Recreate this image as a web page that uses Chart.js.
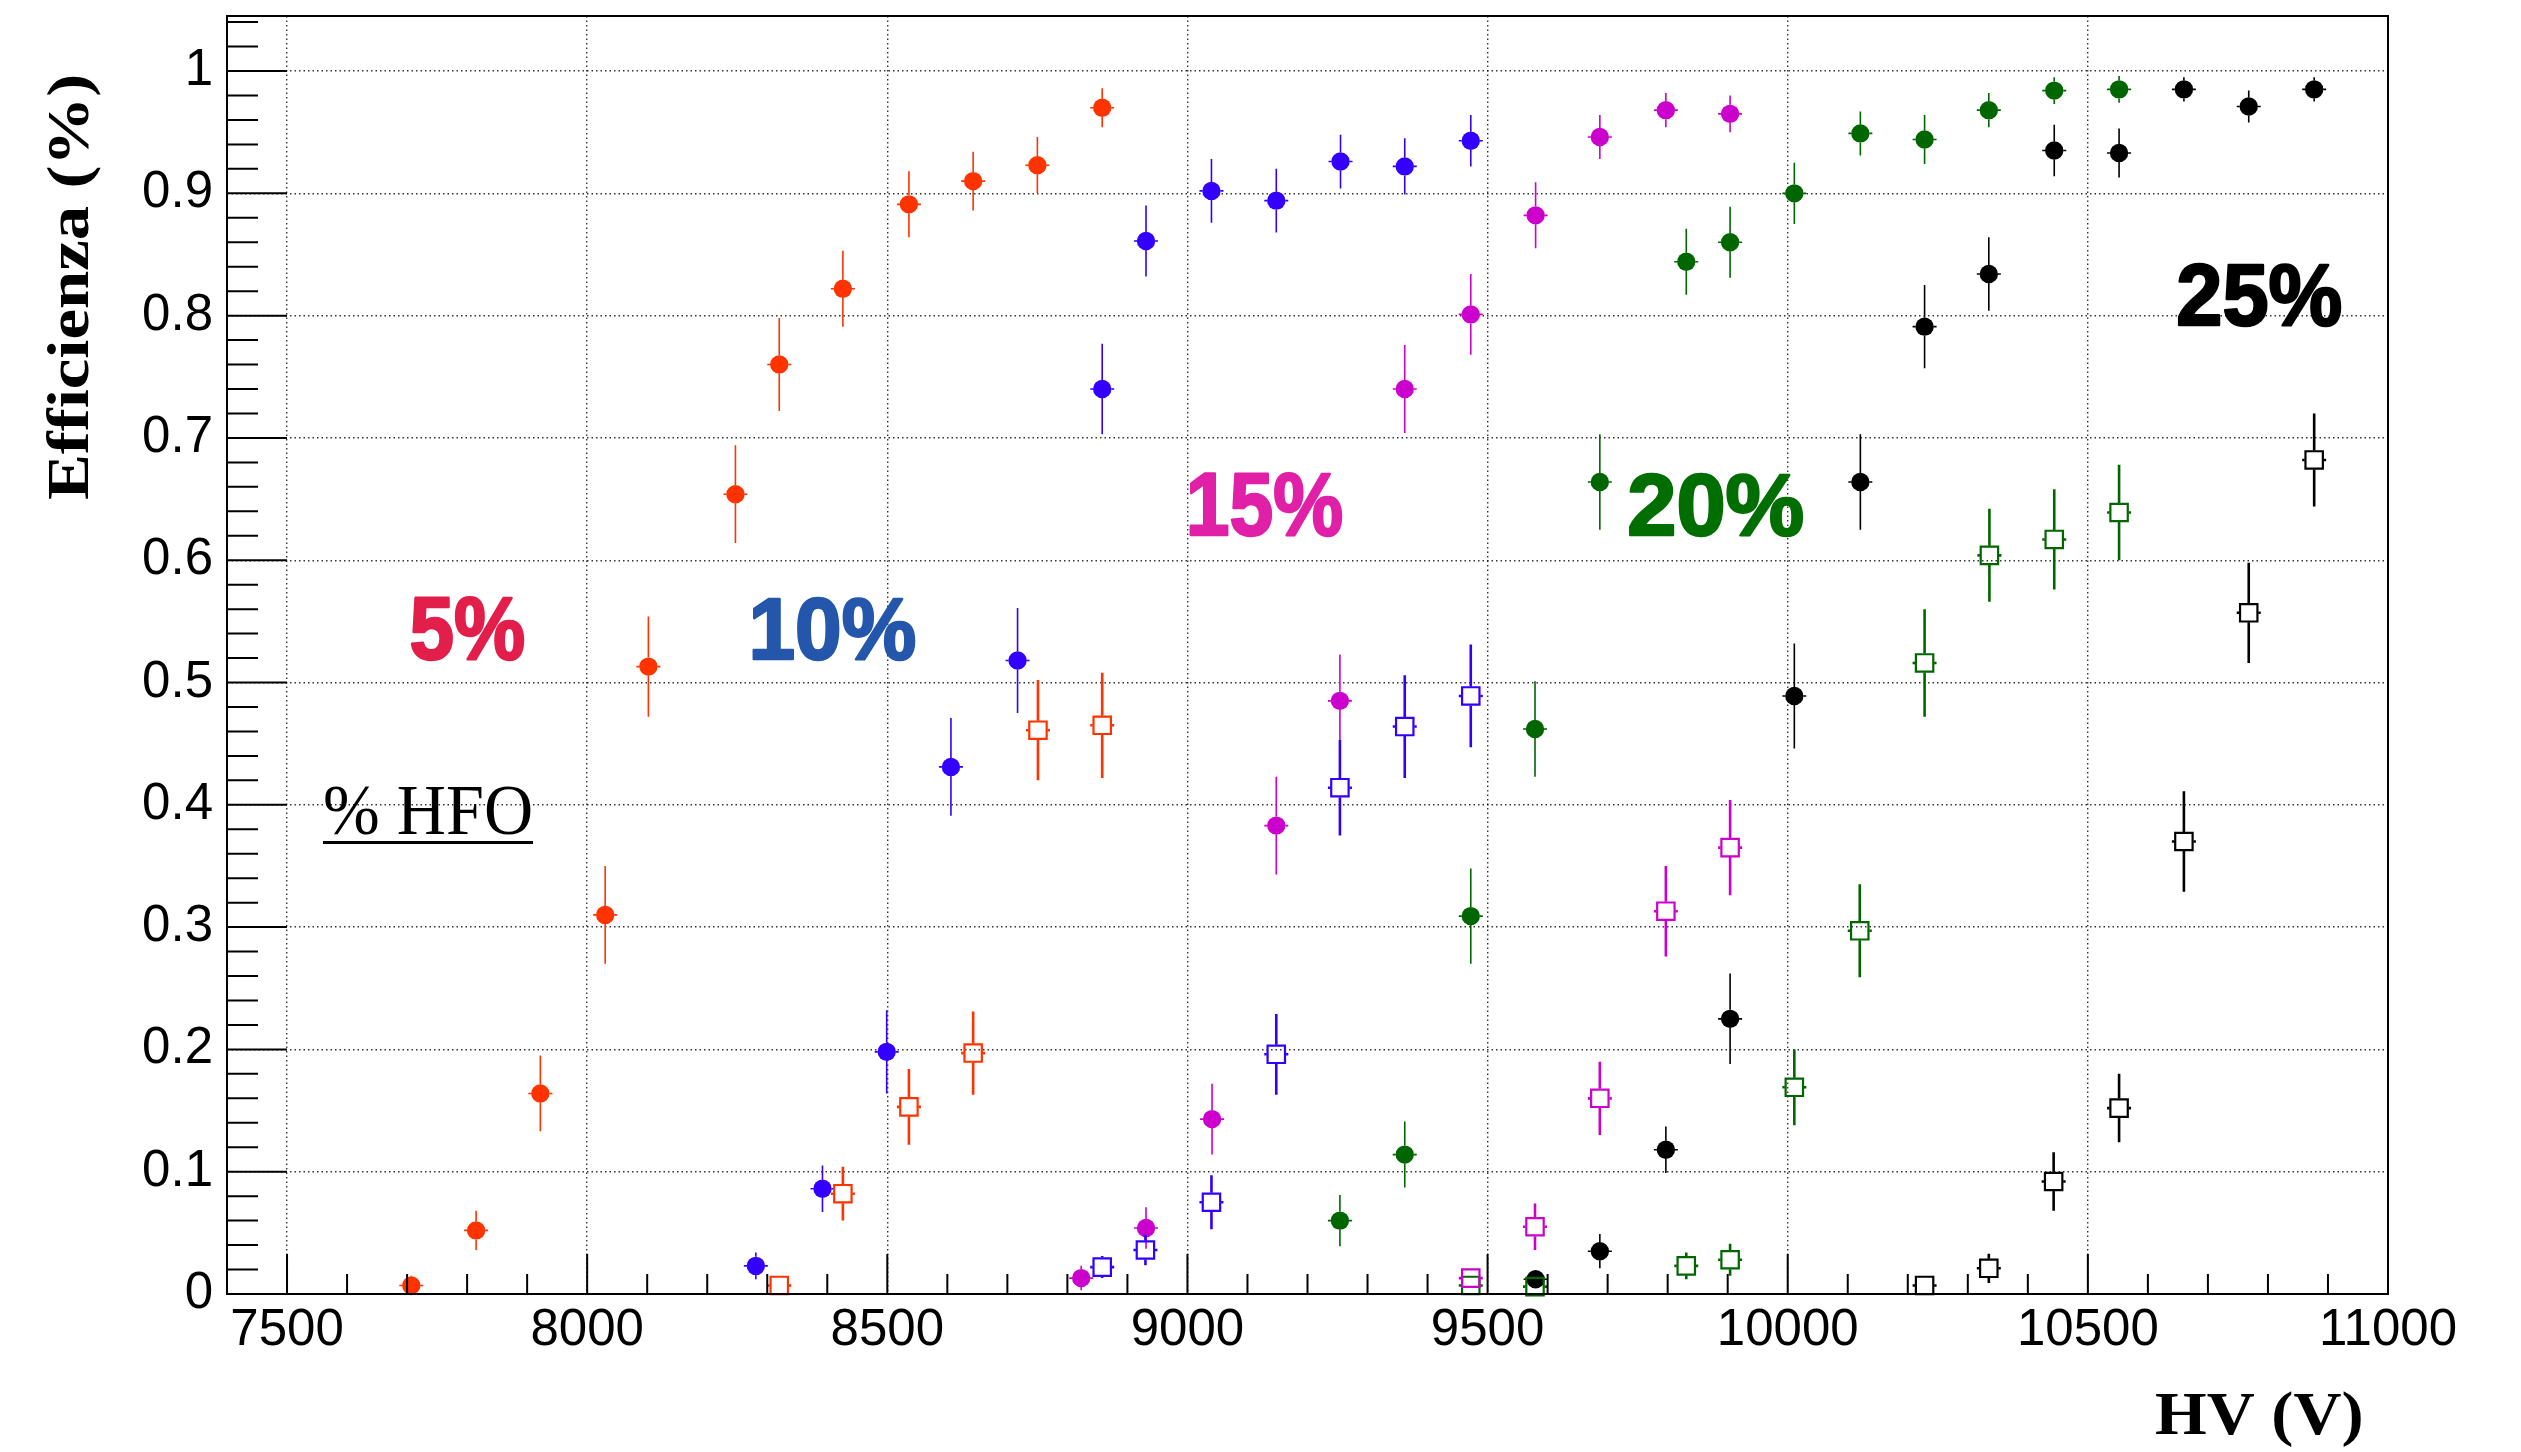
<!DOCTYPE html>
<html>
<head>
<meta charset="utf-8">
<script src="https://cdn.jsdelivr.net/npm/chart.js@4/dist/chart.umd.min.js"></script>
<style>
html,body{margin:0;padding:0;background:#fff;}
#wrap{width:2521px;height:1452px;position:relative;}
</style>
</head>
<body>
<div id="wrap"><canvas id="c" width="2521" height="1452"></canvas></div>
<script>
// ---------- data ----------
const xTickValues = [7500, 8000, 8500, 9000, 9500, 10000, 10500, 11000];
const xTickLabels = ['7500', '8000', '8500', '9000', '9500', '10000', '10500', '11000'];
const yTickValues = [0, 0.1, 0.2, 0.3, 0.4, 0.5, 0.6, 0.7, 0.8, 0.9, 1.0];
const yTickLabels = ['0', '0.1', '0.2', '0.3', '0.4', '0.5', '0.6', '0.7', '0.8', '0.9', '1'];

// 5% HFO
const hv5Full  = [7707, 7815, 7922, 8030, 8102, 8247, 8320, 8426, 8536, 8643, 8750, 8858];
const eff5Full = [0.007, 0.052, 0.164, 0.310, 0.513, 0.654, 0.760, 0.822, 0.891, 0.910, 0.923, 0.970];
const err5Full = [0.008, 0.016, 0.031, 0.040, 0.041, 0.040, 0.038, 0.031, 0.027, 0.024, 0.023, 0.016];
const hv5Open  = [8320, 8426, 8536, 8643, 8751, 8858];
const eff5Open = [0.007, 0.082, 0.153, 0.197, 0.461, 0.465];
const err5Open = [0.005, 0.022, 0.031, 0.034, 0.041, 0.043];

// 10% HFO
const hv10Full  = [8281, 8392, 8499, 8606, 8717, 8858, 8931, 9040, 9148, 9255, 9362, 9472];
const eff10Full = [0.023, 0.086, 0.198, 0.431, 0.518, 0.740, 0.861, 0.902, 0.894, 0.926, 0.922, 0.943];
const err10Full = [0.011, 0.019, 0.034, 0.040, 0.043, 0.037, 0.029, 0.026, 0.026, 0.022, 0.023, 0.021];
const hv10Open  = [8858, 8930, 9040, 9148, 9254, 9362, 9472];
const eff10Open = [0.022, 0.036, 0.075, 0.196, 0.414, 0.464, 0.489];
const err10Open = [0.009, 0.0125, 0.022, 0.033, 0.039, 0.042, 0.042];

// 15% HFO
const hv15Full  = [8823, 8931, 9041, 9148, 9254, 9362, 9472, 9580, 9687, 9797, 9904];
const eff15Full = [0.013, 0.054, 0.143, 0.383, 0.485, 0.740, 0.801, 0.882, 0.946, 0.968, 0.965];
const err15Full = [0.010, 0.017, 0.029, 0.040, 0.038, 0.036, 0.033, 0.027, 0.018, 0.014, 0.015];
const hv15Open  = [9472, 9579, 9687, 9797, 9904];
const eff15Open = [0.013, 0.055, 0.160, 0.313, 0.365];
const err15Open = [0.008, 0.019, 0.030, 0.037, 0.039];

// 20% HFO
const hv20Full  = [9254, 9362, 9472, 9579, 9687, 9831, 9904, 10011, 10121, 10228, 10335, 10444, 10552];
const eff20Full = [0.060, 0.114, 0.309, 0.462, 0.664, 0.844, 0.860, 0.900, 0.949, 0.944, 0.968, 0.984, 0.985];
const err20Full = [0.021, 0.027, 0.039, 0.039, 0.039, 0.027, 0.029, 0.025, 0.018, 0.020, 0.014, 0.011, 0.011];
const hv20Open  = [9472, 9579, 9831, 9904, 10011, 10120, 10228, 10336, 10444, 10552];
const eff20Open = [0.007, 0.006, 0.023, 0.028, 0.169, 0.297, 0.516, 0.604, 0.617, 0.639];
const err20Open = [0.005, 0.005, 0.011, 0.013, 0.031, 0.038, 0.044, 0.038, 0.041, 0.039];

// 25% HFO
const hv25Full  = [9580, 9687, 9797, 9904, 10011, 10121, 10228, 10335, 10444, 10552, 10660, 10768, 10877];
const eff25Full = [0.012, 0.035, 0.118, 0.225, 0.489, 0.664, 0.791, 0.834, 0.935, 0.933, 0.985, 0.971, 0.985];
const err25Full = [0.007, 0.014, 0.019, 0.037, 0.043, 0.039, 0.034, 0.030, 0.021, 0.020, 0.010, 0.013, 0.010];
const hv25Open  = [10228, 10335, 10443, 10552, 10660, 10768, 10877];
const eff25Open = [0.007, 0.021, 0.092, 0.152, 0.370, 0.557, 0.682];
const err25Open = [0.004, 0.012, 0.024, 0.028, 0.041, 0.041, 0.038];

const seriesNames = ['5%', '10%', '15%', '20%', '25%'];
const titleY = 'Efficienza (%)';
const titleX = 'HV (V)';
const boxTitle = '% HFO';

// ---------- styling ----------
const C5 = '#ff3300', C10 = '#3300ff', C15 = '#cc00cc', C20 = '#006600', C25 = '#000000';
const LABEL_COLORS = ['#e21e4a', '#2457ac', '#e020a6', '#006e00', '#000000'];

function pts(xs, ys) { return xs.map((x, i) => ({ x: x, y: ys[i] })); }

function fullSet(name, xs, ys, es, col) {
  return {
    label: name + ' HFO', data: pts(xs, ys), errY: es, showLine: false,
    pointStyle: 'circle', pointRadius: 9.2, pointHoverRadius: 9.2,
    backgroundColor: col, borderColor: col, pointBorderWidth: 0,
    barWidth: 1.6, gap: 9, clip: false
  };
}
function openSet(name, xs, ys, es, col) {
  return {
    label: name + ' HFO (open)', data: pts(xs, ys), errY: es, showLine: false,
    pointStyle: 'rect', pointRadius: 12.3, pointHoverRadius: 12.3,
    backgroundColor: 'rgba(0,0,0,0)', borderColor: col, pointBorderWidth: 2.2,
    barWidth: 2.6, gap: 9.5, clip: false
  };
}

const datasets = [
  fullSet(seriesNames[0], hv5Full, eff5Full, err5Full, C5),
  openSet(seriesNames[0], hv5Open, eff5Open, err5Open, C5),
  fullSet(seriesNames[1], hv10Full, eff10Full, err10Full, C10),
  openSet(seriesNames[1], hv10Open, eff10Open, err10Open, C10),
  fullSet(seriesNames[2], hv15Full, eff15Full, err15Full, C15),
  openSet(seriesNames[2], hv15Open, eff15Open, err15Open, C15),
  fullSet(seriesNames[3], hv20Full, eff20Full, err20Full, C20),
  openSet(seriesNames[3], hv20Open, eff20Open, err20Open, C20),
  fullSet(seriesNames[4], hv25Full, eff25Full, err25Full, C25),
  openSet(seriesNames[4], hv25Open, eff25Open, err25Open, C25)
];

// ---------- plugins ----------
const errorBars = {
  id: 'errorBars',
  beforeDatasetDraw(chart, args) {
    const ds = chart.data.datasets[args.index];
    const meta = args.meta;
    const ys = chart.scales.y;
    const ctx = chart.ctx;
    ctx.save();
    ctx.strokeStyle = ds.borderColor;
    ctx.lineWidth = ds.barWidth;
    const g = ds.gap, hx = 12;
    meta.data.forEach((el, i) => {
      const d = ds.data[i], e = ds.errY[i];
      const x = el.x, y = el.y;
      const yt = ys.getPixelForValue(d.y + e), yb = ys.getPixelForValue(d.y - e);
      ctx.beginPath();
      if (y - yt > g) { ctx.moveTo(x, y - g); ctx.lineTo(x, yt); }
      if (yb - y > g) { ctx.moveTo(x, y + g); ctx.lineTo(x, yb); }
      ctx.moveTo(x - hx, y); ctx.lineTo(x - g, y);
      ctx.moveTo(x + g, y); ctx.lineTo(x + hx, y);
      ctx.stroke();
    });
    ctx.restore();
  }
};

function inkText(ctx, text, font, color, box, rotated, strokeW) {
  ctx.save();
  ctx.font = font;
  ctx.textAlign = 'left';
  ctx.textBaseline = 'alphabetic';
  const m = ctx.measureText(text);
  const iw = m.actualBoundingBoxLeft + m.actualBoundingBoxRight;
  const ih = m.actualBoundingBoxAscent + m.actualBoundingBoxDescent;
  const sw = strokeW || 0;
  ctx.fillStyle = color;
  ctx.strokeStyle = color;
  ctx.lineJoin = 'round';
  if (!rotated) {
    ctx.translate(box.x1 + sw / 2, box.y1 + sw / 2);
    ctx.scale((box.x2 - box.x1 - sw) / iw, (box.y2 - box.y1 - sw) / ih);
  } else {
    ctx.translate(box.x1, box.y2);
    ctx.rotate(-Math.PI / 2);
    ctx.scale((box.y2 - box.y1) / iw, (box.x2 - box.x1) / ih);
  }
  ctx.fillText(text, m.actualBoundingBoxLeft, m.actualBoundingBoxAscent);
  if (sw > 0) {
    ctx.lineWidth = sw;
    ctx.strokeText(text, m.actualBoundingBoxLeft, m.actualBoundingBoxAscent);
  }
  ctx.restore();
}

const frameAndText = {
  id: 'frameAndText',
  afterDatasetsDraw(chart) {
    const ctx = chart.ctx, a = chart.chartArea;
    const xs = chart.scales.x, ys = chart.scales.y;
    ctx.save();
    ctx.strokeStyle = '#000';
    ctx.lineWidth = 2;
    ctx.beginPath();
    // y ticks (inside)
    for (let k = 0; k <= 52; k++) {
      const v = k * 0.02;
      if (v > ys.max) break;
      const py = ys.getPixelForValue(v);
      const len = (k % 5 === 0) ? 60 : 31;
      ctx.moveTo(a.left, py); ctx.lineTo(a.left + len, py);
    }
    // x ticks (inside)
    for (let v = 7500; v <= 11000; v += 100) {
      const px = xs.getPixelForValue(v);
      const len = (v % 500 === 0) ? 40 : 20;
      ctx.moveTo(px, a.bottom); ctx.lineTo(px, a.bottom - len);
    }
    ctx.stroke();
    ctx.strokeRect(a.left, a.top, a.right - a.left, a.bottom - a.top);
    ctx.restore();

    // series labels
    const lab = 'bold 86px "Liberation Sans", Arial, sans-serif';
    inkText(ctx, seriesNames[0], lab, LABEL_COLORS[0], {x1: 410, x2: 525, y1: 597, y2: 661}, false, 2.5);
    inkText(ctx, seriesNames[1], lab, LABEL_COLORS[1], {x1: 752, x2: 916, y1: 597, y2: 661}, false, 2.5);
    inkText(ctx, seriesNames[2], lab, LABEL_COLORS[2], {x1: 1189, x2: 1343, y1: 473, y2: 537}, false, 2.5);
    inkText(ctx, seriesNames[3], lab, LABEL_COLORS[3], {x1: 1628, x2: 1804, y1: 473, y2: 537}, false, 2.5);
    inkText(ctx, seriesNames[4], lab, LABEL_COLORS[4], {x1: 2177, x2: 2342, y1: 263, y2: 327}, false, 2.5);

    // % HFO box title with underline
    inkText(ctx, boxTitle, '68px "Liberation Serif", "Times New Roman", serif', '#000', {x1: 325, x2: 531, y1: 786, y2: 835});
    ctx.save();
    ctx.fillStyle = '#000';
    ctx.fillRect(323, 841, 210, 3);
    ctx.restore();
  },
  afterDraw(chart) {
    const ctx = chart.ctx;
    inkText(ctx, titleY, 'bold 66px "Liberation Serif", "Times New Roman", serif', '#000', {x1: 46, x2: 101, y1: 76, y2: 499}, true);
    inkText(ctx, titleX, 'bold 68px "Liberation Serif", "Times New Roman", serif', '#000', {x1: 2156, x2: 2361, y1: 1391, y2: 1448});
  }
};

// ---------- chart ----------
Chart.defaults.font.family = '"Liberation Sans", Arial, Helvetica, sans-serif';
new Chart(document.getElementById('c'), {
  type: 'scatter',
  data: { datasets: datasets },
  options: {
    responsive: false,
    animation: false,
    devicePixelRatio: 1,
    layout: { padding: { left: 0, top: 16, right: 133, bottom: 0 } },
    plugins: { legend: { display: false }, tooltip: { enabled: false }, title: { display: false } },
    scales: {
      x: {
        type: 'linear', min: 7400, max: 11000,
        afterBuildTicks: (s) => { s.ticks = xTickValues.map(v => ({ value: v })); },
        afterFit: (s) => { s.height = 158; },
        ticks: {
          color: '#000', padding: 6, font: { size: 51 }, maxRotation: 0, autoSkip: false,
          callback: (v) => { const i = xTickValues.indexOf(v); return i >= 0 ? xTickLabels[i] : ''; }
        },
        grid: { color: 'rgba(0,0,0,0.8)', lineWidth: 1.4, drawTicks: false },
        border: { display: false, dash: [1.5, 3] }
      },
      y: {
        type: 'linear', min: 0, max: 1.045,
        afterBuildTicks: (s) => { s.ticks = yTickValues.map(v => ({ value: v })); },
        afterFit: (s) => { s.width = 227; s.paddingTop = 0; s.paddingBottom = 0; },
        ticks: {
          color: '#000', padding: 14, font: { size: 51 }, autoSkip: false,
          callback: (v) => { const i = yTickValues.findIndex(t => Math.abs(t - v) < 1e-6); return i >= 0 ? yTickLabels[i] : ''; }
        },
        grid: { color: 'rgba(0,0,0,0.8)', lineWidth: 1.4, drawTicks: false },
        border: { display: false, dash: [1.5, 3] }
      }
    }
  },
  plugins: [errorBars, frameAndText]
});
</script>
</body>
</html>
